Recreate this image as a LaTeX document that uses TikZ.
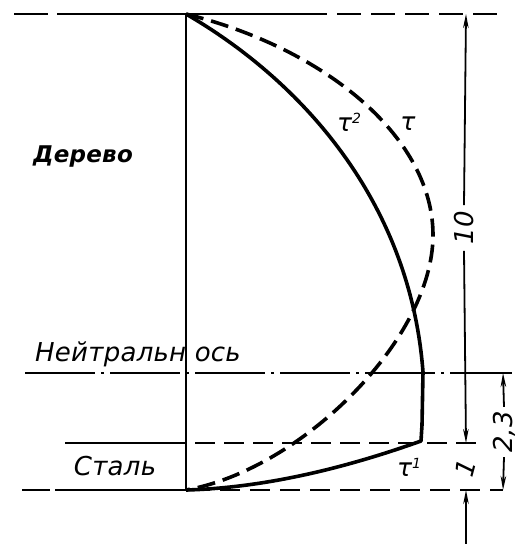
\documentclass[tikz,border=0pt]{standalone}
\usepackage{fontspec}
\setmainfont{DejaVu Sans}
\newfontfamily\drf[LetterSpace=1]{DejaVu Sans}
\usetikzlibrary{arrows.meta}
\begin{document}
\begin{tikzpicture}[x=1pt,y=-1pt,
  lbl/.style={font=\drf\itshape\fontsize{26}{28}\selectfont, inner sep=0pt},
  tau/.style={font=\drf\itshape\fontsize{25}{28}\selectfont, inner sep=0pt},
  thinl/.style={line width=2pt},
  curve/.style={line width=3.6pt, line join=round},
  dim/.style={line width=1.8pt},
  arr/.style={-{Stealth[length=14pt,width=5.5pt]}}]
\useasboundingbox (0,0) rectangle (529,544);

% key points
\coordinate (T) at (186,14);
\coordinate (B) at (186,490);
\coordinate (N) at (423,372);
\coordinate (K) at (421,441);
\coordinate (M) at (433,235);

% horizontal reference lines
\draw[thinl] (14,14) -- (48,14);
\draw[thinl] (57,14) -- (327,14);
\draw[thinl, dash pattern=on 24pt off 10pt] (337,14) -- (497,14);

\draw[thinl, dash pattern=on 70pt off 6pt on 3pt off 6pt] (25,373) -- (512,373);

\draw[thinl] (65,443) -- (186,443);
\draw[thinl, dash pattern=on 20pt off 9pt] (195,443) -- (483,443);

\draw[thinl] (22,490) -- (50,490);
\draw[thinl] (55,490) -- (B);
\draw[thinl, dash pattern=on 20pt off 10pt] (190,490) -- (503,490);

% vertical section line
\draw[line width=2.3pt] (T) -- (B);

% solid curve
\draw[curve] (T) .. controls (300,80) and (410,200) .. (N)
  -- (422,425) -- (K) .. controls (340,470) and (260,488) .. (B);

% dashed curve
\draw[curve, dash pattern=on 18pt off 8pt] (T) .. controls (330,50) and (433,140) .. (M)
  .. controls (433,340) and (300,470) .. (B);

% labels
\node[lbl, font=\drf\itshape\bfseries\fontsize{23}{26}\selectfont] (wood) at (83,157) {Дерево};
\node[lbl] (na) at (138,354) {Нейтральн ось};
\node[lbl] (steel) at (115,466) {Сталь};
\node[tau] (t2) at (349,122) {τ\raisebox{8pt}{\fontsize{14}{14}\selectfont 2}};
\node[tau] (t) at (408,124) {τ};
\node[tau] (t1) at (409,467) {τ\raisebox{8pt}{\fontsize{14}{14}\selectfont 1}};

% dimensions
\coordinate (d10t) at (466,14);
\coordinate (d10b) at (466,443);
\node[lbl, rotate=90, inner xsep=6pt] (n10) at (464,228) {10};
\draw[dim, arr] (n10.east) -- (d10t);
\draw[dim, arr] (n10.west) -- (d10b);

\coordinate (d23t) at (503,373);
\coordinate (d23b) at (503,490);
\node[lbl, rotate=90, inner xsep=4pt] (n23) at (504,432) {2,3};
\draw[dim, arr] (n23.east) -- (d23t);
\draw[dim, arr] (n23.west) -- (d23b);

\coordinate (d1s) at (466,544);
\coordinate (d1e) at (466,490);
\draw[dim, arr] (d1s) -- (d1e);
\node[lbl, rotate=75] (n1) at (465,468) {1};
\end{tikzpicture}
\end{document}
